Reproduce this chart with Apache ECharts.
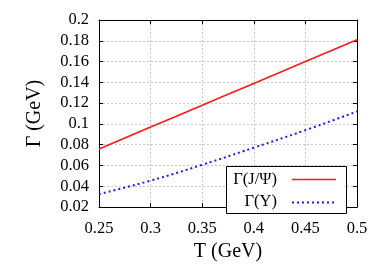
<!DOCTYPE html>
<html><head><meta charset="utf-8">
<script src="https://cdn.jsdelivr.net/npm/echarts@6/dist/echarts.min.js"></script>
<style>html,body{margin:0;padding:0;background:#fff}#c{width:382px;height:267px}</style>
</head><body><div id="c"></div>
<script>
var T = [0.25, 0.30, 0.35, 0.40, 0.45, 0.50];
var gammaJpsi = [0.076, 0.097, 0.118, 0.139, 0.160, 0.181];
var gammaUpsilon = [0.0325, 0.0455, 0.0607, 0.0772, 0.0940, 0.112];
var seriesNames = ['Γ(J/Ψ)', 'Γ(Υ)'];
var xTitle = 'T (GeV)';
var yTitle = 'Γ (GeV)';

var F = '"Liberation Serif", "DejaVu Serif", serif';
function pairs(xs, ys){ return xs.map(function(x,i){ return [x, ys[i]]; }); }
var chart = echarts.init(document.getElementById('c'), null, {renderer:'canvas'});
var grid = {left:99, right:25, top:20, bottom:49, show:false};
var split = {show:true, lineStyle:{color:'#c8c8c8', type:[2,2], width:1}};
chart.setOption({
  animation:false,
  grid: grid,
  xAxis: [{
    type:'value', min:0.25, max:0.5, interval:0.05,
    name:xTitle, nameLocation:'middle', nameGap:32,
    nameTextStyle:{fontFamily:F, fontSize:20, color:'#000'},
    axisLine:{show:true, onZero:false, lineStyle:{color:'#000', width:1}},
    axisTick:{show:true, inside:true, length:4, lineStyle:{color:'#000'}},
    axisLabel:{fontFamily:F, fontSize:16.5, color:'#000', margin:13},
    splitLine: split
  },{
    type:'value', min:0.25, max:0.5, interval:0.05, position:'top',
    axisLine:{show:true, onZero:false, lineStyle:{color:'#000', width:1}},
    axisTick:{show:true, inside:true, length:4, lineStyle:{color:'#000'}},
    axisLabel:{show:false}, splitLine:{show:false}
  }],
  yAxis: [{
    type:'value', min:0.02, max:0.2, interval:0.02,
    name:yTitle, nameLocation:'middle', nameGap:54,
    nameTextStyle:{fontFamily:F, fontSize:20, color:'#000'},
    axisLine:{show:true, onZero:false, lineStyle:{color:'#000', width:1}},
    axisTick:{show:true, inside:true, length:4, lineStyle:{color:'#000'}},
    axisLabel:{fontFamily:F, fontSize:16.5, color:'#000', margin:10},
    splitLine: split
  },{
    type:'value', min:0.02, max:0.2, interval:0.02, position:'right',
    axisLine:{show:true, onZero:false, lineStyle:{color:'#000', width:1}},
    axisTick:{show:true, inside:true, length:4, lineStyle:{color:'#000'}},
    axisLabel:{show:false}, splitLine:{show:false}
  }],
  series: [{
    name:seriesNames[0], type:'line', data:pairs(T, gammaJpsi), showSymbol:false, smooth:true,
    lineStyle:{color:'#ff1a1a', width:1.6}
  },{
    name:seriesNames[1], type:'line', data:pairs(T, gammaUpsilon), showSymbol:false, smooth:true,
    lineStyle:{color:'#1a1aff', width:2, type:[2,3]}
  }],
  graphic: [
    {type:'rect', shape:{x:226.5, y:166.5, width:120, height:47}, style:{fill:'#fff', stroke:'#000', lineWidth:1}, z:100},
    {type:'text', x:277, y:180, style:{text:seriesNames[0], font:'16.5px '+F, fill:'#000', textAlign:'right', textVerticalAlign:'middle'}, z:101},
    {type:'line', shape:{x1:292, y1:179.5, x2:336, y2:179.5}, style:{stroke:'#ff1a1a', lineWidth:1.6}, z:101},
    {type:'text', x:277, y:202, style:{text:seriesNames[1], font:'16.5px '+F, fill:'#000', textAlign:'right', textVerticalAlign:'middle'}, z:101},
    {type:'line', shape:{x1:292, y1:202.5, x2:336, y2:202.5}, style:{stroke:'#1a1aff', lineWidth:2, lineDash:[2,3]}, z:101}
  ]
});
</script></body></html>
